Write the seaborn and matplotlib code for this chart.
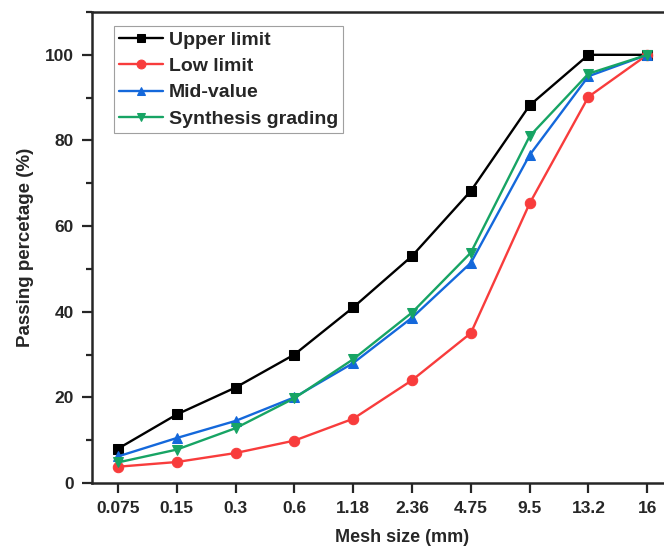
import numpy as np
import pandas as pd
import matplotlib
matplotlib.use('Agg')
import matplotlib.pyplot as plt
import seaborn as sns
from matplotlib.ticker import MultipleLocator

# sieve sizes (categorical axis)
mesh = ['0.075', '0.15', '0.3', '0.6', '1.18', '2.36', '4.75', '9.5', '13.2', '16']
upper = [8, 16, 22.3, 30, 41, 53, 68.2, 88.2, 100, 100]
low = [3.8, 4.9, 7, 9.9, 15, 24, 35, 65.3, 90.2, 100]
mid = [6.2, 10.5, 14.5, 20, 28, 38.6, 51.4, 76.6, 95, 100]
synth = [4.8, 7.8, 12.8, 19.8, 28.9, 39.8, 53.8, 81, 95.6, 100]

names = ['Upper limit', 'Low limit', 'Mid-value', 'Synthesis grading']
colors = ['#000000', '#F83C3C', '#1468DB', '#17A464']
markers = ['s', 'o', '^', 'v']

sns.set_style('ticks')
plt.rcParams['font.family'] = ['Liberation Sans', 'DejaVu Sans']
plt.rcParams['font.weight'] = 'bold'

fig = plt.figure(figsize=(6.64, 5.56), dpi=100)
ax = fig.add_axes([92/664, (556-483)/556, 620/664, (483-12)/556])

pos = np.arange(len(mesh))
for vals, name, c, m in zip([upper, low, mid, synth], names, colors, markers):
    sns.lineplot(x=pos, y=vals, ax=ax, color=c, marker=m, markersize=7.5,
                 markeredgecolor=c, linewidth=1.7, label=name)

ax.set_xlim(-0.44, 10.1)
ax.set_ylim(0, 110)
ax.set_xticks(pos)
ax.set_xticklabels(mesh)
ax.yaxis.set_major_locator(MultipleLocator(20))
ax.yaxis.set_minor_locator(MultipleLocator(10))
ax.tick_params(axis='both', which='major', direction='out', length=7, width=1.6,
               labelsize=12.5, pad=6)
ax.tick_params(axis='y', which='minor', direction='out', length=4, width=1.6)
for s in ax.spines.values():
    s.set_linewidth(1.8)
ax.spines['right'].set_visible(False)

ax.set_xlabel('Mesh size (mm)', fontsize=13, fontweight='bold', labelpad=9)
ax.set_ylabel('Passing percetage (%)', fontsize=13.5, fontweight='bold', labelpad=8)

leg = ax.legend(loc='upper left', bbox_to_anchor=(0.035, 0.97), fontsize=14,
                frameon=True, fancybox=False, edgecolor='#888888',
                handlelength=2.3, handletextpad=0.3, borderpad=0.25,
                labelspacing=0.45, borderaxespad=0, markerscale=0.85)
leg.get_frame().set_linewidth(0.8)
for t in leg.get_texts():
    t.set_fontweight('bold')

fig.savefig('out.png', dpi=100)
